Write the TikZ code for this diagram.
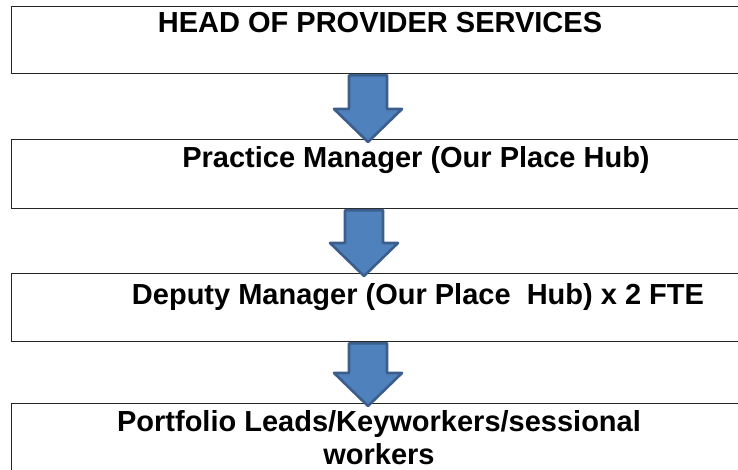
\documentclass[tikz,border=0pt]{standalone}
\usepackage{fontspec}
\setmainfont{Liberation Sans}
\usetikzlibrary{calc}

\definecolor{arrowfill}{HTML}{4F81BD}
\definecolor{arrowedge}{HTML}{3B5E8C}

\tikzset{
    tierbox/.style={draw=black!85, line width=1.3pt, rectangle, anchor=north west,
        minimum width=740pt, inner sep=0pt},
    tiertext/.style={anchor=base, inner sep=0pt, align=center,
        font=\fontsize{29}{33}\selectfont\bfseries},
    tierarrow/.style={draw=arrowedge, fill=arrowfill, line width=2.6pt, line join=round}
}

% arrow between two boxes: #1 = centre x, #2 = upper box, #3 = lower box
\newcommand{\tierlink}[3]{%
    \path[tierarrow] let \p1=(#2.south), \p2=(#3.north) in
        ({#1pt-19pt},{\y1-1pt}) -- ({#1pt+19pt},{\y1-1pt})
        -- ({#1pt+19pt},{\y2+30pt}) -- ({#1pt+34pt},{\y2+30pt})
        -- (#1pt,{\y2-3pt}) -- ({#1pt-34pt},{\y2+30pt})
        -- ({#1pt-19pt},{\y2+30pt}) -- cycle;
}

\begin{document}
\begin{tikzpicture}[x=1pt, y=-1pt]

    \clip (0,0) rectangle (738,470);

    \node[tierbox, minimum height=67pt] (head) at (11,6) {};
    \node[tierbox, minimum height=69pt] (practice) at (11,139) {};
    \node[tierbox, minimum height=68pt] (deputy) at (11,273) {};
    \node[tierbox, minimum height=90pt] (workers) at (11,403) {};

    \node[tiertext] (headtext) at (380,33) {HEAD OF PROVIDER SERVICES};
    \node[tiertext] (practicetext) at (416,168) {Practice Manager (Our Place Hub)};
    \node[tiertext] (deputytext) at (418,304) {Deputy Manager (Our Place\ \ Hub) x 2 FTE};
    \node[tiertext] (workerstext) at (379,464) {Portfolio Leads/Keyworkers/sessional\\workers};

    \tierlink{368}{head}{practice}
    \tierlink{364}{practice}{deputy}
    \tierlink{368}{deputy}{workers}

\end{tikzpicture}
\end{document}
